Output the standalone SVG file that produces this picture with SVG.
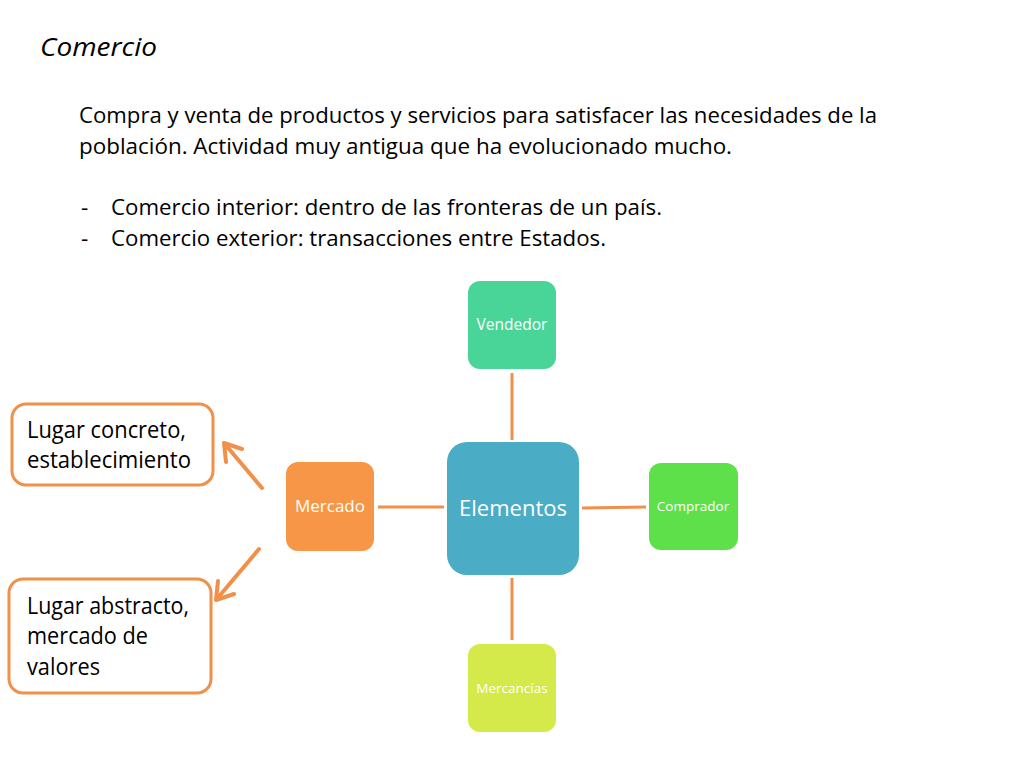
<svg xmlns="http://www.w3.org/2000/svg" width="1024" height="768" viewBox="0 0 1024 768">
<defs>
<style>
.body{font-family:"Open Sans","Liberation Sans",sans-serif;font-size:22.5px;fill:#000}
.box{font-family:"Open Sans","Liberation Sans",sans-serif;font-size:23px;fill:#000}
.lbl{font-family:"Open Sans","Liberation Sans",sans-serif;fill:#fff;text-anchor:middle}
.conn{stroke:#F0904A;stroke-width:3;fill:none}
.arr{stroke:#F0904A;stroke-width:4;fill:none;stroke-linecap:round}
.ob{fill:#fff;stroke:#F0904A;stroke-width:3}
</style>
</defs>
<rect width="1024" height="768" fill="#fff"/>
<text x="40" y="56" font-family="'Open Sans','Liberation Sans',sans-serif" font-style="italic" font-size="26" textLength="117" lengthAdjust="spacingAndGlyphs">Comercio</text>
<g id="intro">
<text class="body" x="79" y="123" textLength="798" lengthAdjust="spacingAndGlyphs">Compra y venta de productos y servicios para satisfacer las necesidades de la</text>
<text class="body" x="79" y="154" textLength="653" lengthAdjust="spacingAndGlyphs">población. Actividad muy antigua que ha evolucionado mucho.</text>
<text class="body" x="81" y="215">-</text>
<text class="body" x="111" y="215" textLength="551" lengthAdjust="spacingAndGlyphs">Comercio interior: dentro de las fronteras de un país.</text>
<text class="body" x="81" y="246">-</text>
<text class="body" x="111" y="246" textLength="495" lengthAdjust="spacingAndGlyphs">Comercio exterior: transacciones entre Estados.</text>
</g>
<g id="connectors">
<line class="conn" x1="512" y1="373" x2="512" y2="440"/>
<line class="conn" x1="582" y1="508" x2="646" y2="507"/>
<line class="conn" x1="378" y1="507" x2="444" y2="507"/>
<line class="conn" x1="512" y1="578" x2="512" y2="640"/>
<path class="arr" d="M262 488 L224 443 M224 443 L226 462 M224 443 L242 449"/>
<path class="arr" d="M259 549 L216 600 M216 600 L234 594 M216 600 L218 581"/>
</g>
<g id="vendedor">
<rect x="468" y="281" width="88" height="88" rx="12" fill="#48D597"/>
<text class="lbl" x="512" y="330" font-size="15.5">Vendedor</text>
</g>
<g id="elementos">
<rect x="447" y="442" width="132" height="133" rx="20" fill="#4BACC6"/>
<text class="lbl" x="513" y="516" font-size="22">Elementos</text>
</g>
<g id="comprador">
<rect x="649" y="463" width="89" height="87" rx="12" fill="#5EE04A"/>
<text class="lbl" x="693" y="511" font-size="13.5">Comprador</text>
</g>
<g id="mercado">
<rect x="286" y="462" width="88" height="89" rx="12" fill="#F79646"/>
<text class="lbl" x="330" y="512" font-size="17">Mercado</text>
</g>
<g id="mercancias">
<rect x="468" y="644" width="88" height="88" rx="12" fill="#D4EA4A"/>
<text class="lbl" x="512" y="693" font-size="13.5">Mercancías</text>
</g>
<g id="concreto">
<rect class="ob" x="12" y="404" width="201" height="81" rx="14"/>
<text class="box" x="27" y="438" textLength="159" lengthAdjust="spacingAndGlyphs">Lugar concreto,</text>
<text class="box" x="27" y="468" textLength="164" lengthAdjust="spacingAndGlyphs">establecimiento</text>
</g>
<g id="abstracto">
<rect class="ob" x="9" y="579" width="202" height="114" rx="14"/>
<text class="box" x="27" y="614" textLength="162" lengthAdjust="spacingAndGlyphs">Lugar abstracto,</text>
<text class="box" x="27" y="644" textLength="121" lengthAdjust="spacingAndGlyphs">mercado de</text>
<text class="box" x="27" y="675" textLength="73" lengthAdjust="spacingAndGlyphs">valores</text>
</g>
</svg>
